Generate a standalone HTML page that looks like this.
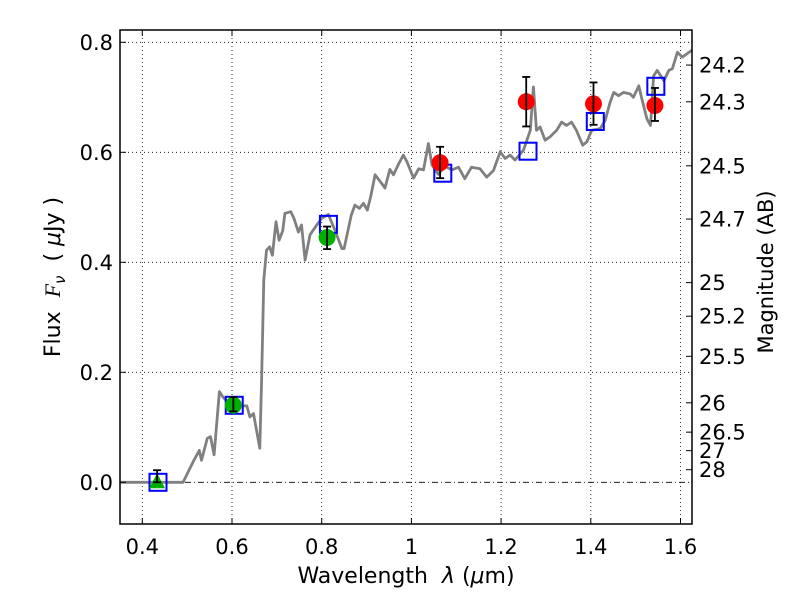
<!DOCTYPE html>
<html><head><meta charset="utf-8"><style>
body{margin:0;background:#fff;}
svg{display:block;font-family:"DejaVu Sans","Liberation Sans",sans-serif;}
</style></head><body>
<svg id="chart" width="800" height="600" viewBox="0 0 800 600" xmlns="http://www.w3.org/2000/svg">
<rect x="0" y="0" width="800" height="600" fill="#fff"/>
<g id="grid"></g>
<g id="spec"></g>
<g id="marks"></g>
<rect x="120" y="30" width="572" height="494" fill="none" stroke="#000" stroke-width="1.5"/>
<g id="ticks"></g>
<text x="406" y="583" font-size="22" text-anchor="middle">Wavelength&#160;&#160;<tspan font-style="italic">λ</tspan> (<tspan font-style="italic">μ</tspan>m)</text>
<text transform="translate(60,277) rotate(-90)" font-size="22" text-anchor="middle">Flux&#160;&#160;<tspan font-style="italic" font-family="Liberation Serif">F</tspan><tspan font-style="italic" font-size="15" dy="5">ν</tspan><tspan dy="-5">&#160;&#160;(&#160;</tspan><tspan font-style="italic">μ</tspan>Jy )</text>
<text transform="translate(773,272) rotate(-90)" font-size="21" text-anchor="middle">Magnitude (AB)</text>
</svg>
<script>
const xTicks=[0.4,0.6,0.8,1.0,1.2,1.4,1.6];
const xTickLabels=["0.4","0.6","0.8","1","1.2","1.4","1.6"];
const yTicks=[0.0,0.2,0.4,0.6,0.8];
const yTickLabels=["0.0","0.2","0.4","0.6","0.8"];
const magTicks=[24.2,24.3,24.5,24.7,25,25.2,25.5,26,26.5,27,28];
const magLabels=["24.2","24.3","24.5","24.7","25","25.2","25.5","26","26.5","27","28"];
const specWave=[0.35,0.491,0.515,0.527,0.532,0.545,0.552,0.560,0.572,0.580,0.598,0.633,0.640,0.648,0.662,0.666,0.671,0.677,0.684,0.690,0.698,0.705,0.713,0.718,0.731,0.738,0.748,0.755,0.763,0.774,0.789,0.800,0.815,0.830,0.845,0.850,0.866,0.874,0.884,0.893,0.902,0.910,0.919,0.934,0.941,0.952,0.960,0.971,0.982,0.990,1.005,1.016,1.027,1.038,1.046,1.060,1.075,1.090,1.105,1.119,1.134,1.153,1.168,1.183,1.198,1.209,1.220,1.231,1.250,1.265,1.272,1.279,1.287,1.298,1.309,1.324,1.335,1.346,1.357,1.368,1.382,1.391,1.402,1.421,1.432,1.443,1.451,1.462,1.473,1.488,1.495,1.507,1.514,1.525,1.533,1.540,1.548,1.563,1.574,1.582,1.593,1.604,1.626];
const specFlux=[0.0,0.0,0.04,0.058,0.04,0.080,0.083,0.050,0.165,0.155,0.140,0.139,0.119,0.125,0.062,0.186,0.368,0.422,0.428,0.413,0.474,0.440,0.457,0.489,0.492,0.480,0.455,0.468,0.404,0.450,0.468,0.480,0.487,0.457,0.425,0.425,0.486,0.504,0.498,0.507,0.495,0.522,0.559,0.543,0.535,0.569,0.559,0.578,0.595,0.583,0.553,0.570,0.568,0.616,0.577,0.560,0.575,0.568,0.573,0.552,0.573,0.570,0.555,0.567,0.601,0.589,0.595,0.586,0.604,0.640,0.719,0.640,0.646,0.622,0.628,0.640,0.655,0.649,0.655,0.640,0.613,0.619,0.640,0.643,0.658,0.691,0.709,0.703,0.709,0.706,0.700,0.721,0.697,0.661,0.649,0.739,0.749,0.730,0.749,0.752,0.782,0.773,0.786];
const modelWave=[0.435,0.605,0.815,1.07,1.26,1.41,1.545];
const modelFlux=[0.0,0.140,0.469,0.562,0.602,0.656,0.720];
const greenWave=[0.603,0.812];
const greenFlux=[0.140,0.445];
const greenErrLo=[0.011,0.021];
const greenErrHi=[0.015,0.020];
const redWave=[1.064,1.256,1.406,1.543];
const redFlux=[0.581,0.692,0.688,0.685];
const redErrLo=[0.028,0.045,0.038,0.028];
const redErrHi=[0.029,0.045,0.039,0.032];
const limWave=[0.433];
const limFlux=[0.0];
const limErrHi=[0.022];

const NS="http://www.w3.org/2000/svg";
const L=120,R=692,T=30,B=524;
function xs(l){return 142.3+(l-0.4)*448.5;}
function ys(f){return 482.3-f*550;}
function magToFlux(m){return Math.pow(10,(23.9-m)/2.5);}
function mk(tag,attrs,parent){const e=document.createElementNS(NS,tag);for(const k in attrs)e.setAttribute(k,attrs[k]);parent.appendChild(e);return e;}
const grid=document.getElementById('grid'),ticks=document.getElementById('ticks'),spec=document.getElementById('spec'),marks=document.getElementById('marks');

xTicks.forEach((v,i)=>{const x=xs(v);
 let g=mk('line',{x1:x,x2:x,y1:T,y2:B,stroke:'#000','stroke-width':0.8,'stroke-dasharray':'1,3'},grid);
 
 
 mk('line',{x1:x,x2:x,y1:B,y2:B-6,stroke:'#000','stroke-width':1},ticks);
 mk('line',{x1:x,x2:x,y1:T,y2:T+6,stroke:'#000','stroke-width':1},ticks);
 let t=mk('text',{x:x,y:B+30,'font-size':21,'text-anchor':'middle'},ticks);t.textContent=xTickLabels[i];
 
 
});
yTicks.forEach((v,i)=>{const y=ys(v);
 let g=mk('line',{x1:L,x2:R,y1:y,y2:y,stroke:'#000','stroke-width':0.8,'stroke-dasharray':v===0?'6,3,1,3':'1,3'},grid);
 
 
 mk('line',{x1:L,x2:L+6,y1:y,y2:y,stroke:'#000','stroke-width':1},ticks);
 let t=mk('text',{x:L-7,y:y+7.5,'font-size':21,'text-anchor':'end'},ticks);t.textContent=yTickLabels[i];
 
 
});
magTicks.forEach((m,i)=>{const y=ys(magToFlux(m));
 mk('line',{x1:R,x2:R-6,y1:y,y2:y,stroke:'#000','stroke-width':1},ticks);
 let t=mk('text',{x:R+7,y:y+7.5,'font-size':21},ticks);t.textContent=magLabels[i];
 
 
});
let d='';specWave.forEach((w,i)=>{d+=(i?'L':'M')+xs(w).toFixed(1)+','+ys(specFlux[i]).toFixed(1);});
let p=mk('path',{d:d,fill:'none',stroke:'#808080','stroke-width':2.8,'stroke-linejoin':'round'},spec);


modelWave.forEach((w,i)=>{
 let r=mk('rect',{x:xs(w)-8.5,y:ys(modelFlux[i])-8.5,width:17,height:17,fill:'none',stroke:'#0000ff','stroke-width':2},marks);
 
 
});
function errbar(x,y0,y1){
 mk('line',{x1:x,x2:x,y1:y0,y2:y1,stroke:'#000','stroke-width':1.8},marks);
 mk('line',{x1:x-4,x2:x+4,y1:y0,y2:y0,stroke:'#000','stroke-width':1.8},marks);
 mk('line',{x1:x-4,x2:x+4,y1:y1,y2:y1,stroke:'#000','stroke-width':1.8},marks);
}
limWave.forEach((w,i)=>{const x=xs(w),y=ys(limFlux[i]);
 let t=mk('polygon',{points:`${x},${y-9} ${x-8},${y+6} ${x+8},${y+6}`,fill:'#00b000'},marks);
 
 
 errbar(x,ys(limFlux[i]+limErrHi[i]),y);
});
greenWave.forEach((w,i)=>{const x=xs(w),y=ys(greenFlux[i]);
 let c=mk('circle',{cx:x,cy:y,r:8.5,fill:'#00b000'},marks);
 
 
 errbar(x,ys(greenFlux[i]+greenErrHi[i]),ys(greenFlux[i]-greenErrLo[i]));
});
redWave.forEach((w,i)=>{const x=xs(w),y=ys(redFlux[i]);
 let c=mk('circle',{cx:x,cy:y,r:8.5,fill:'#ff0000'},marks);
 
 
 errbar(x,ys(redFlux[i]+redErrHi[i]),ys(redFlux[i]-redErrLo[i]));
});
</script>
</body></html>
